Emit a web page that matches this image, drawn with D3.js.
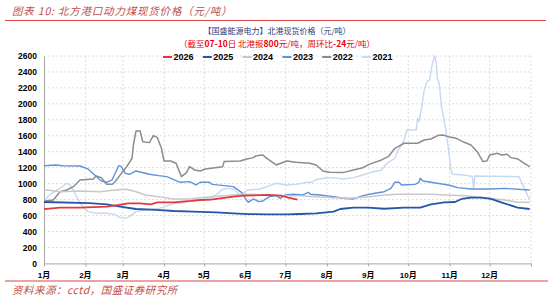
<!DOCTYPE html>
<html>
<head>
<meta charset="utf-8">
<script src="https://cdn.jsdelivr.net/npm/d3@7"></script>
<style>
body { margin: 0; background: #fff; }
svg text { font-family: "Liberation Sans", Arial, "Noto Sans CJK SC", sans-serif; }
.cjk { font-family: "Noto Sans CJK SC", sans-serif; }
</style>
</head>
<body>
<div id="chart"></div>
<script>
// series, as [month-day, price]
var years = ["2026", "2025", "2024", "2023", "2022", "2021"];

var s2026 = [["01-01",680],["01-13",699],["01-28",699],["02-17",711],["02-26",732],["03-05",753],["03-14",753],
	["03-22",741],["03-27",766],["04-08",766],["04-21",783],["04-28",795],["05-06",800],["05-23",837],["05-30",849],
	["06-17",858],["06-28",849],["07-03",824],["07-10",800]];

var s2025 = [["01-01",770],["02-04",755],["02-17",741],["02-27",711],["03-11",682],["03-26",670],["04-08",657],
	["04-23",649],["05-10",640],["05-23",628],["06-03",618],["06-17",615],["07-02",615],["07-12",619],["07-24",628],
	["08-06",649],["08-11",682],["08-21",699],["09-01",699],["09-13",685],["09-28",699],["10-10",699],["10-18",741],
	["10-28",766],["11-05",770],["11-10",808],["11-17",824],["11-25",824],["12-02",808],["12-12",753],["12-22",699],
	["12-31",682]];

var s2024 = [["01-01",925],["01-13",899],["01-28",908],["02-12",899],["02-23",920],["03-04",929],["03-11",899],
	["03-18",858],["03-28",837],["04-08",808],["04-20",808],["04-28",824],["05-05",833],["05-23",858],["06-03",866],
	["06-17",858],["06-29",849],["07-12",849],["07-24",837],["08-06",824],["08-18",816],["09-02",837],["09-13",858],
	["09-23",866],["10-18",866],["11-12",849],["11-27",824],["12-12",795],["12-22",766],["12-31",766]];

var s2023 = [["01-01",1225],["01-10",1234],["01-15",1225],["01-28",1221],["02-03",1184],["02-08",1108],["02-13",1033],
	["02-17",1017],["02-21",1046],["02-23",1117],["02-26",1225],["02-28",1213],["03-03",1129],["03-06",1117],
	["03-11",1159],["03-21",1117],["03-28",1100],["04-03",1088],["04-13",1017],["04-20",1025],["04-25",983],
	["04-28",1017],["05-05",1017],["05-07",991],["05-23",962],["05-29",891],["06-03",766],["06-07",808],["06-11",774],
	["06-14",783],["06-19",837],["06-24",849],["06-27",816],["07-01",858],["07-07",866],["07-14",858],["07-18",891],
	["07-20",866],["07-27",858],["08-06",837],["08-13",816],["08-21",808],["08-28",850],["09-06",879],["09-13",899],
	["09-18",941],["09-21",1017],["09-24",1017],["09-26",983],["10-06",991],["10-09",1017],["10-10",1067],
	["10-12",1033],["10-18",1017],["10-31",983],["11-07",950],["11-17",933],["12-02",933],["12-12",941],["12-31",920]];

var s2022 = [["01-01",780],["01-08",795],["01-13",899],["01-18",920],["01-23",962],["01-28",1046],["02-07",1058],
	["02-09",1096],["02-13",1075],["02-17",991],["02-21",991],["02-23",1017],["02-28",1129],["03-04",1213],
	["03-08",1318],["03-09",1485],["03-11",1660],["03-14",1660],["03-16",1526],["03-21",1514],["03-24",1602],
	["03-27",1576],["03-30",1443],["04-01",1284],["04-06",1284],["04-10",1255],["04-14",1088],["04-18",1142],
	["04-20",1213],["04-24",1171],["04-28",1159],["05-02",1184],["05-15",1213],["05-16",1276],["05-28",1284],
	["06-02",1309],["06-07",1326],["06-09",1351],["06-14",1359],["06-17",1317],["06-24",1234],["07-02",1284],
	["07-09",1267],["07-19",1255],["07-24",1234],["07-29",1159],["08-03",1142],["08-13",1138],["08-21",1171],
	["08-28",1200],["09-02",1245],["09-11",1297],["09-16",1338],["09-21",1443],["09-28",1506],["10-08",1506],
	["10-13",1547],["10-18",1560],["10-23",1602],["10-27",1610],["10-31",1589],["11-06",1568],["11-12",1518],
	["11-17",1485],["11-22",1393],["11-26",1276],["11-29",1284],["12-01",1359],["12-07",1380],["12-10",1359],
	["12-14",1368],["12-17",1326],["12-22",1309],["12-27",1255],["12-31",1213]];

var s2021 = [["01-01",774],["01-05",858],["01-13",941],["01-18",1004],["01-20",991],["01-23",920],["01-26",816],
	["01-30",711],["02-03",649],["02-09",628],["02-17",628],["02-23",615],["02-27",574],["03-03",565],["03-06",586],
	["03-11",649],["03-18",670],["03-28",690],["04-02",711],["04-08",753],["04-13",753],["04-20",774],["04-28",795],
	["05-05",816],["05-10",858],["05-14",920],["05-18",941],["05-23",933],["05-28",858],["06-03",920],["06-12",933],
	["06-17",962],["06-24",1004],["07-02",983],["07-09",991],["07-17",1017],["07-21",1017],["07-23",1046],
	["07-29",1067],["08-06",1075],["08-13",1058],["08-21",1075],["08-28",1108],["09-03",1142],["09-11",1171],
	["09-15",1255],["09-21",1318],["09-23",1401],["09-26",1485],["09-28",1550],["09-30",1673],["10-07",1673],
	["10-08",1819],["10-09",1777],["10-11",1945],["10-13",2174],["10-15",2279],["10-17",2300],["10-19",2500],
	["10-21",2600],["10-22",2500],["10-23",2300],["10-24",2280],["10-26",1965],["10-29",1690],["10-31",1450],
	["11-02",1180],["11-03",1117],["11-12",1108],["11-18",1090],["11-19",940],["11-20",1095],["12-23",1088],
	["12-31",800]];

var seriesValues = [s2026, s2025, s2024, s2023, s2022, s2021];
var yTicks = [0, 200, 400, 600, 800, 1000, 1200, 1400, 1600, 1800, 2000, 2200, 2400, 2600];
var monthLabels = ["1月", "2月", "3月", "4月", "5月", "6月", "7月", "8月", "9月", "10月", "11月", "12月"];

var color = d3.scaleOrdinal().domain(years)
		.range(["#e23a3c", "#2556a8", "#c8c8c8", "#5f93d6", "#8c8c8c", "#c6d9f0"]);
var widths = {"2026": 1.8, "2025": 1.8, "2024": 1.5, "2023": 1.4, "2022": 1.5, "2021": 1.4};

var W = 554, H = 298;
var parseDay = d3.timeParse("%Y-%m-%d");
var xScale = d3.scaleTime()
		.domain([new Date(2001, 0, 1), new Date(2002, 0, 1)])
		.range([44, 531]);
var yScale = d3.scaleLinear().domain([0, 2600]).range([263.4, 56]);

var svg = d3.select("#chart").append("svg").attr("width", W).attr("height", H);

// Header
svg.append("text").attr("class", "cjk")
		.attr("x", 12).attr("y", 15)
		.attr("font-size", 10.5).attr("font-style", "italic").attr("fill", "#c0504d")
		.attr("letter-spacing", 0.8)
		.text("图表 10:  北方港口动力煤现货价格（元/吨）");
svg.append("line").attr("x1", 5).attr("x2", 546).attr("y1", 20.5).attr("y2", 20.5)
		.attr("stroke", "#d9464a").attr("stroke-width", 1);
svg.append("text").attr("class", "cjk")
		.attr("x", 277).attr("y", 34).attr("text-anchor", "middle")
		.attr("font-size", 8).attr("fill", "#1f3d7a")
		.text("【国盛能源电力】北港现货价格（元/吨）");

var sub = svg.append("text").attr("class", "cjk")
		.attr("x", 277).attr("y", 47).attr("text-anchor", "middle")
		.attr("font-size", 8.5).attr("fill", "#e60012");
[["（截至", false], ["07-10", true], ["日  北港报", false], ["800", true], ["元/吨，周环比", false],
	["-24", true], ["元/吨）", false]].forEach(function(p) {
	sub.append("tspan").attr("font-weight", p[1] ? "bold" : "normal").text(p[0]);
});

// Grid
var monthDates = d3.range(1, 13).map(function(m) { return new Date(2001, m, 1); });
svg.append("g").selectAll("line").data(yTicks.slice(1)).enter().append("line")
		.attr("x1", 44).attr("x2", 531)
		.attr("y1", function(d) { return yScale(d); }).attr("y2", function(d) { return yScale(d); })
		.attr("stroke", "#d6d6d6").attr("stroke-width", 0.8).attr("stroke-dasharray", "2,2");
svg.append("g").selectAll("line").data(monthDates).enter().append("line")
		.attr("x1", function(d) { return xScale(d); }).attr("x2", function(d) { return xScale(d); })
		.attr("y1", yScale(2600)).attr("y2", yScale(0))
		.attr("stroke", "#d6d6d6").attr("stroke-width", 0.8).attr("stroke-dasharray", "2,2");

// Axes
var yAxis = d3.axisLeft(yScale).tickValues(yTicks).tickSize(0).tickPadding(7).tickFormat(d3.format("d"));
var gy = svg.append("g").attr("transform", "translate(44,0)").call(yAxis);
gy.select(".domain").attr("stroke", "#a6a6a6");
gy.selectAll("text").attr("font-size", 8.5).attr("font-weight", "bold").attr("fill", "#000")
		.attr("font-family", "Liberation Sans, Arial, sans-serif");

var xAxis = d3.axisBottom(xScale).tickValues([new Date(2001, 0, 1)].concat(monthDates))
		.tickSize(3).tickFormat("");
var gx = svg.append("g").attr("transform", "translate(0," + yScale(0) + ")").call(xAxis);
gx.select(".domain").attr("stroke", "#a6a6a6");
gx.selectAll(".tick line").attr("stroke", "#a6a6a6");

svg.append("g").selectAll("text").data(monthLabels).enter().append("text")
		.attr("x", function(d, i) { return xScale(new Date(2001, i, 1)); })
		.attr("y", 278).attr("text-anchor", "middle")
		.attr("font-size", 8).attr("font-weight", "bold").attr("fill", "#000")
		.text(function(d) { return d; });

// Lines
var line = d3.line()
		.x(function(d) { return xScale(parseDay("2001-" + d[0])); })
		.y(function(d) { return yScale(d[1]); });

var seriesData = years.map(function(y, i) { return {name: y, values: seriesValues[i]}; });
svg.append("g").selectAll("path").data(seriesData.slice().reverse()).enter().append("path")
		.attr("d", function(d) { return line(d.values); })
		.attr("fill", "none")
		.attr("stroke", function(d) { return color(d.name); })
		.attr("stroke-width", function(d) { return widths[d.name]; })
		.attr("stroke-linejoin", "round");

// Legend
var legend = svg.append("g").attr("transform", "translate(163,57)");
var item = legend.selectAll("g").data(years).enter().append("g")
		.attr("transform", function(d, i) { return "translate(" + (i * 39.8) + ",0)"; });
item.append("line").attr("x1", 0).attr("x2", 9).attr("y1", 0).attr("y2", 0)
		.attr("stroke", function(d) { return color(d); }).attr("stroke-width", 2);
item.append("text").attr("x", 10.5).attr("y", 0).attr("dy", "0.35em")
		.attr("font-size", 9).attr("font-weight", "bold").attr("fill", "#000")
		.text(function(d) { return d; });

// Footer
svg.append("line").attr("x1", 5).attr("x2", 548).attr("y1", 281).attr("y2", 281)
		.attr("stroke", "#d9464a").attr("stroke-width", 1);
svg.append("text").attr("class", "cjk")
		.attr("x", 12).attr("y", 294)
		.attr("font-size", 10.5).attr("font-style", "italic").attr("fill", "#c0504d")
		.attr("letter-spacing", 0.5)
		.text("资料来源：cctd，国盛证券研究所");
</script>
</body>
</html>
